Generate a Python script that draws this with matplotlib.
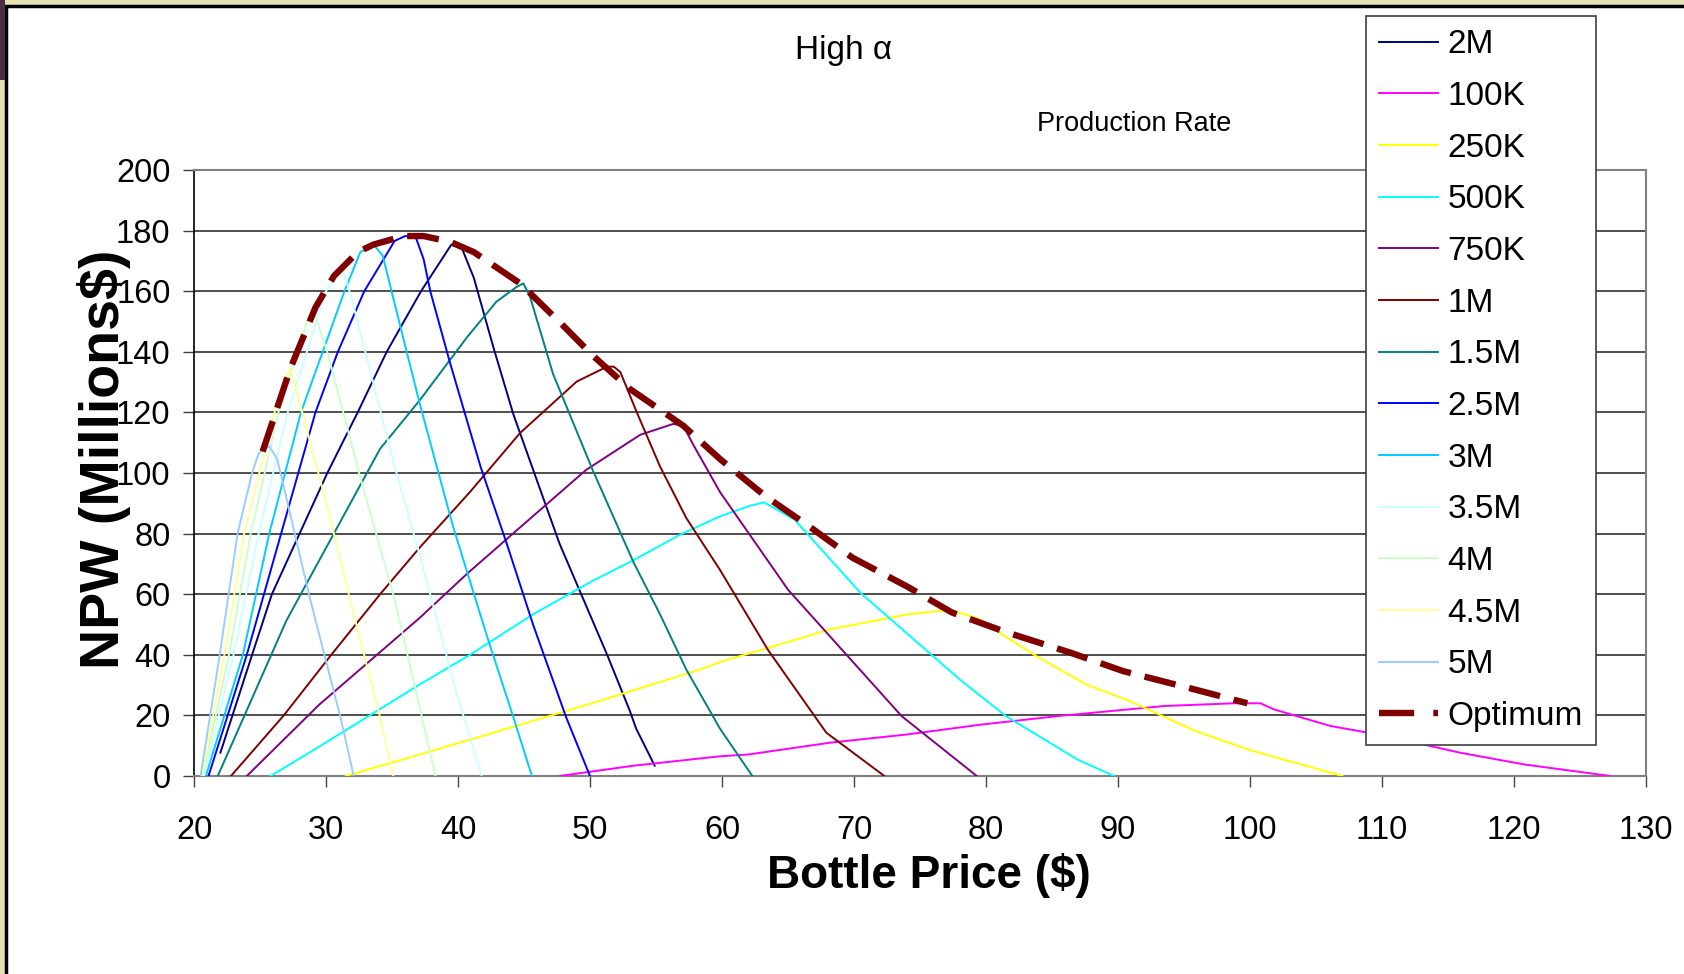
import matplotlib
matplotlib.use("Agg")
import matplotlib.pyplot as plt
from matplotlib import font_manager, patches
from matplotlib.lines import Line2D

# series: bottle price ($) vs NPW (millions $)
price_2m = [22.0, 24.4, 25.9, 28.0, 30.1, 32.4, 34.6, 37.2, 39.5, 40.3, 41.2, 42.7, 44.2,
            46.0, 47.7, 49.5, 51.3, 53.0, 53.5, 54.9]
npw_2m = [7.7, 40.0, 60.0, 80.0, 100.0, 120.0, 140.0, 160.0, 175.4, 174.1, 164.4, 141.2, 119.3,
          97.3, 76.6, 58.3, 40.0, 21.7, 15.6, 3.4]

price_100k = [47.7, 53.3, 59.85, 62.0, 68.2, 74.0, 79.7, 85.5, 88.9, 93.5, 98.8, 100.8,
              101.8, 106.1, 108.3, 111.0, 115.9, 120.8, 127.3]
npw_100k = [0.0, 3.4, 6.5, 7.1, 11.0, 13.7, 17.0, 19.8, 21.2, 23.1, 24.0, 24.0,
            22.0, 16.5, 14.8, 12.5, 7.7, 3.8, 0.0]

price_250k = [31.5, 37.1, 43.7, 50.2, 58.3, 59.85, 68.2, 74.0, 76.3, 77.5, 79.5, 81.0, 83.8,
              87.6, 90.9, 95.9, 99.8, 107.0]
npw_250k = [0.0, 7.1, 15.6, 24.1, 35.1, 37.6, 48.4, 53.3, 54.4, 54.5, 51.9, 47.3, 39.6,
            30.2, 24.7, 14.8, 8.8, 0.0]

price_500k = [25.8, 29.0, 37.1, 40.9, 45.7, 50.2, 53.5, 56.8, 59.85, 62.2, 63.2, 65.5, 70.5,
              78.0, 81.5, 86.9, 89.7]
npw_500k = [0.0, 8.4, 30.2, 40.0, 53.4, 64.4, 71.7, 79.6, 85.7, 89.3, 90.3, 84.6, 60.4,
            31.9, 19.8, 5.5, 0.0]

price_750k = [24.0, 29.5, 37.1, 40.7, 44.4, 49.7, 53.8, 56.3, 57.07, 57.8, 59.85, 65.0, 73.6, 79.3]
npw_750k = [0.0, 23.6, 52.2, 66.8, 80.9, 101.0, 112.6, 116.2, 115.6, 109.5, 93.7, 61.5, 19.8, 0.0]

price_1m = [22.8, 26.8, 30.4, 34.1, 37.1, 40.9, 44.7, 49.0, 51.3, 51.8, 52.3, 53.5, 55.3,
            57.3, 59.85, 63.5, 67.9, 72.3]
npw_1m = [0.0, 20.0, 40.0, 60.0, 75.4, 93.7, 113.2, 130.2, 135.1, 135.1, 133.3, 120.5, 102.2,
          85.1, 68.0, 41.5, 14.3, 0.0]

price_1_5m = [21.8, 27.0, 34.1, 37.1, 40.7, 42.9, 44.4, 44.95, 45.45, 47.2, 50.2, 53.3, 55.3,
              57.3, 59.85, 62.3]
npw_1_5m = [0.0, 51.3, 108.0, 124.0, 144.9, 156.5, 161.3, 162.6, 158.3, 132.7, 101.0, 70.5, 53.4,
            35.1, 15.6, 0.0]

price_2_5m = [21.1, 24.0, 26.6, 29.2, 30.9, 32.9, 35.2, 36.0, 36.8, 37.4, 37.9, 39.4, 41.7,
              43.7, 45.7, 48.2, 50.0]
npw_2_5m = [0.0, 40.0, 80.0, 120.0, 140.0, 160.0, 176.6, 178.2, 177.8, 170.5, 160.0, 136.3, 102.2,
            76.6, 49.8, 19.3, 0.0]

price_3m = [20.9, 23.7, 25.7, 28.1, 31.4, 32.6, 33.6, 34.3, 35.2, 37.1, 39.6, 42.2, 44.2, 45.6]
npw_3m = [0.0, 40.0, 80.0, 120.0, 160.0, 172.9, 175.4, 171.7, 155.9, 122.9, 82.7, 46.1, 19.3, 0.0]

price_3_5m = [20.75, 23.0, 24.9, 27.1, 30.0, 31.2, 31.9, 35.2, 37.1, 38.9, 39.6, 41.8]
npw_3_5m = [0.0, 40.0, 80.0, 120.0, 160.0, 168.0, 158.3, 102.2, 72.9, 43.7, 31.5, 0.0]

price_4m = [20.65, 22.65, 24.3, 26.4, 27.8, 28.6, 29.0, 30.1, 32.6, 35.2, 38.3]
npw_4m = [0.0, 40.0, 80.0, 120.0, 140.0, 150.5, 154.6, 140.0, 98.5, 58.3, 0.0]

price_4_5m = [20.6, 22.3, 23.8, 26.1, 26.9, 27.3, 28.1, 30.1, 32.1, 34.1, 35.1]
npw_4_5m = [0.0, 40.0, 80.0, 120.0, 131.0, 134.5, 121.7, 88.8, 53.4, 19.3, 0.0]

price_5m = [20.5, 21.95, 23.3, 24.4, 24.9, 25.7, 26.3, 26.7, 28.8, 31.1, 32.1]
npw_5m = [0.0, 40.0, 80.0, 100.0, 106.5, 108.9, 104.6, 97.3, 58.3, 19.3, 0.0]

price_opt = [25.2, 27.3, 29.2, 30.6, 32.4, 33.6, 35.9, 37.4, 39.4, 41.2, 44.7, 47.7, 50.2,
             53.0, 57.07, 59.85, 63.3, 66.6, 69.9, 74.0, 77.4, 81.5, 86.4, 90.4, 95.6, 99.8]
npw_opt = [107.1, 134.5, 154.6, 165.0, 172.9, 175.4, 178.2, 178.2, 176.3, 172.9, 162.6, 149.8, 138.8,
           127.8, 115.6, 104.6, 92.3, 82.4, 72.0, 62.6, 54.0, 47.5, 40.7, 34.6, 28.8, 24.0]

series_labels = ["2M", "100K", "250K", "500K", "750K", "1M", "1.5M",
                 "2.5M", "3M", "3.5M", "4M", "4.5M", "5M"]
series_x = [price_2m, price_100k, price_250k, price_500k, price_750k, price_1m, price_1_5m,
            price_2_5m, price_3m, price_3_5m, price_4m, price_4_5m, price_5m]
series_y = [npw_2m, npw_100k, npw_250k, npw_500k, npw_750k, npw_1m, npw_1_5m,
            npw_2_5m, npw_3m, npw_3_5m, npw_4m, npw_4_5m, npw_5m]
series_colors = ["#000080", "#FF00FF", "#FFFF00", "#00FFFF", "#800080", "#800000", "#008080",
                 "#0000FF", "#00CCFF", "#CCFFFF", "#CCFFCC", "#FFFF99", "#99CCFF"]

x_ticks = list(range(20, 131, 10))
y_ticks = list(range(0, 201, 20))

# fonts: the reference text is condensed, so use the narrow face when available
names = {f.name for f in font_manager.fontManager.ttflist}
if "Liberation Sans Narrow" in names:
    fam = ["Liberation Sans Narrow", "DejaVu Sans"]
    fs_tick, fs_title, fs_sub, fs_leg, fs_xlab = 26, 27, 23, 26.5, 39
else:
    fam = ["Liberation Sans", "DejaVu Sans"]
    fs_tick, fs_title, fs_sub, fs_leg, fs_xlab = 23.5, 24, 19.5, 24, 33
plt.rcParams["font.family"] = fam

W, H = 1684, 974
fig = plt.figure(figsize=(W / 100, H / 100), dpi=100)
fig.patch.set_facecolor("#e6e0b2")

# white chart area with black frame
fig.patches.append(patches.Rectangle((6 / W, -0.05), 1.2, 1 - 6 / H + 0.05, transform=fig.transFigure,
                                     facecolor="white", edgecolor="black", lw=2.5, zorder=-2))
fig.patches.append(patches.Rectangle((0, 1 - 80 / H), 5 / W, 80 / H, transform=fig.transFigure,
                                     facecolor="#4a2c44", edgecolor="none", zorder=-1))

ax = fig.add_axes([194 / W, 1 - 776 / H, (1646 - 194) / W, (776 - 170) / H])
ax.set_facecolor("white")

for lab, xs, ys, c in zip(series_labels, series_x, series_y, series_colors):
    ax.plot(xs, ys, color=c, lw=1.4, label=lab, zorder=3)

ax.plot(price_opt, npw_opt, color="#800000", lw=4.6, linestyle=(0, (5.0, 2.2)),
        dash_capstyle="butt", zorder=4)

ax.set_xlim(20, 130)
ax.set_ylim(0, 200)
ax.set_xticks(x_ticks)
ax.set_yticks(y_ticks)
ax.tick_params(axis="both", direction="out", length=8, width=1, labelsize=fs_tick, color="#404040")
ax.tick_params(axis="y", pad=9)
ax.tick_params(axis="x", pad=20)
ax.yaxis.grid(True, color="#303030", lw=1.2)
ax.set_axisbelow(True)
for side in ["top", "right", "bottom"]:
    ax.spines[side].set_color("#808080")
    ax.spines[side].set_linewidth(1.5)
ax.spines["left"].set_color("black")
ax.spines["left"].set_linewidth(1.2)

fig.text(844 / W, 1 - 50 / H, "High α", ha="center", va="center", fontsize=fs_title)
fig.text(1134 / W, 1 - 124 / H, "Production Rate", ha="center", va="center", fontsize=fs_sub)
fig.text(929 / W, 1 - 875 / H, "Bottle Price ($)", ha="center", va="center",
         fontsize=fs_xlab, fontweight="bold")
fig.text(104 / W, 1 - 459 / H, "NPW (Millions$)", ha="center", va="center", rotation=90,
         fontsize=40, fontweight="bold", family=["Liberation Sans", "DejaVu Sans"], zorder=10)

handles, labels = ax.get_legend_handles_labels()
handles.append(Line2D([], [], color="#800000", lw=4.6, linestyle=(0, (5.5, 3.0, 1.1, 3.0)),
                      dash_capstyle="butt"))
labels.append("Optimum")
leg = ax.legend(handles, labels, loc="upper left", bbox_to_anchor=(1366 / W, 1 - 16 / H),
                bbox_transform=fig.transFigure, borderaxespad=0, fontsize=fs_leg, frameon=True,
                fancybox=False, framealpha=1, edgecolor="#404040", handlelength=1.75,
                handletextpad=0.3, labelspacing=0.62, borderpad=0.4)
leg.get_frame().set_linewidth(1.2)
leg.set_zorder(20)

fig.savefig("out.png", dpi=100, facecolor=fig.get_facecolor())
